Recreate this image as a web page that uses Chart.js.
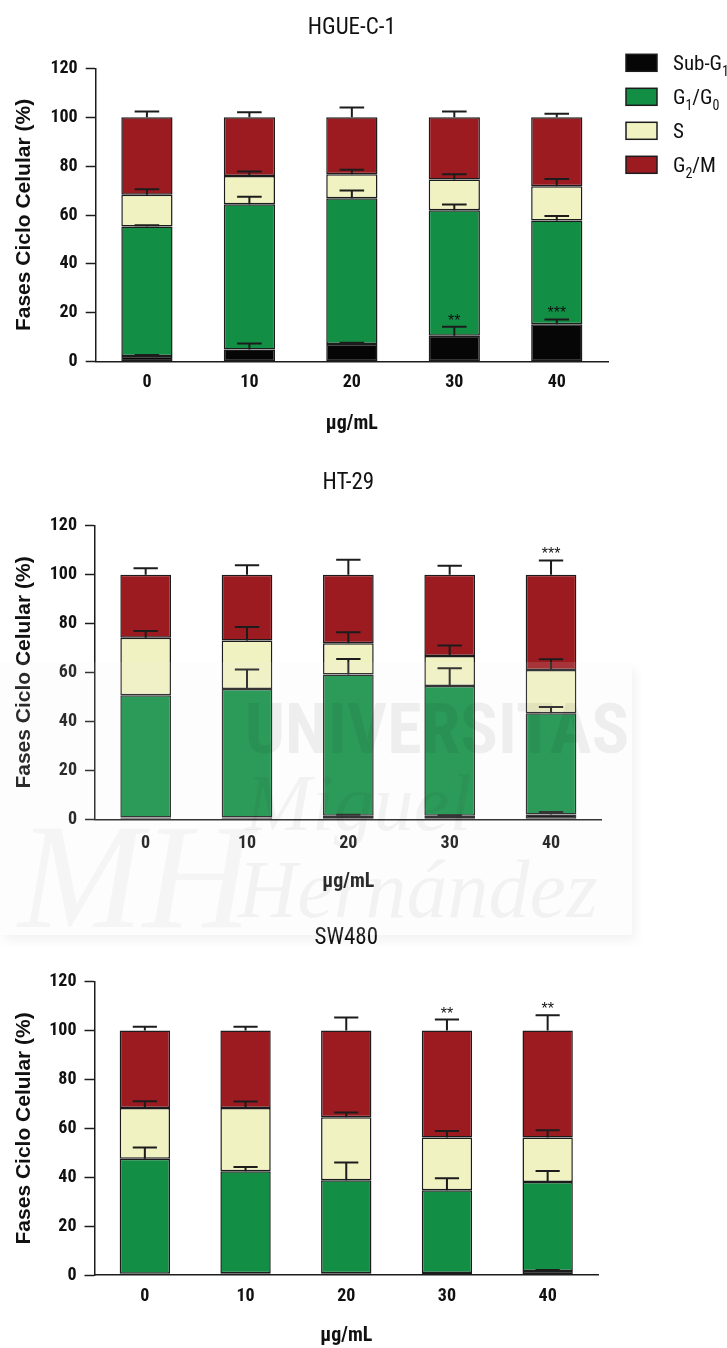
<!DOCTYPE html>
<html>
<head>
<meta charset="utf-8">
<title>Fases del ciclo celular</title>
<script src="https://cdn.jsdelivr.net/npm/chart.js@4.4.1/dist/chart.umd.min.js"></script>
<style>
  body { margin: 0; background: #fff; }
  #page { position: relative; width: 727px; height: 1348px; overflow: hidden; }
  #page canvas { position: absolute; left: 0; }
  .wm { position: absolute; pointer-events: none; white-space: nowrap; line-height: 1; }
  .wm-box { left: 0; top: 662px; width: 632px; height: 273px; background: rgba(238, 238, 238, 0.12);
            box-shadow: 4px 6px 10px rgba(0, 0, 0, 0.05); }
  .wm-uni { left: 245px; top: 688px; font: bold 70px 'Roboto Condensed', sans-serif; color: rgba(0, 0, 0, 0.06); }
  .wm-mig { left: 245px; top: 758px; font: italic 80px 'Liberation Serif', serif; color: rgba(0, 0, 0, 0.045); }
  .wm-her { left: 238px; top: 843px; font: italic 82px 'Liberation Serif', serif; color: rgba(0, 0, 0, 0.045); }
  .wm-logo { left: 18px; top: 790px; font: italic 150px 'Liberation Serif', serif; color: rgba(0, 0, 0, 0.03); }
</style>
</head>
<body>
<div id="page">
  <canvas id="chartHGUE" width="727" height="450" style="top:0px"></canvas>
  <canvas id="chartHT29" width="727" height="455" style="top:450px"></canvas>
  <canvas id="chartSW480" width="727" height="443" style="top:905px"></canvas>
  <div class="wm wm-box"></div>
  <div class="wm wm-logo">MH</div>
  <div class="wm wm-uni">UNIVERSITAS</div>
  <div class="wm wm-mig">Miguel</div>
  <div class="wm wm-her">Hernández</div>
</div>
<script>
// categories (µg/mL) and cell-cycle phases
var categories = ['0', '10', '20', '30', '40'];
var phaseLabels = ['Sub-G_1', 'G_1/G_0', 'S', 'G_2/M'];
var phaseColors = ['#060606', '#128f45', '#f1f2c1', '#9c1b20'];
var yMin = 0, yMax = 120, yStep = 20;

// HGUE-C-1 (% of cells per phase, mean and error)
var hgueSubG1 = [2.3, 5.0, 7.2, 10.6, 15.3];
var hgueG1G0  = [53.0, 59.4, 59.6, 51.3, 42.5];
var hgueS     = [13.0, 11.6, 9.9, 12.6, 14.0];
var hgueG2M   = [31.7, 24.0, 23.3, 25.5, 28.2];
var hgueErrSubG1 = [0.4, 2.4, 0.6, 3.7, 2.0];
var hgueErrG1G0  = [0.5, 3.1, 3.2, 2.4, 1.8];
var hgueErrS     = [2.2, 1.8, 1.8, 2.2, 2.9];
var hgueErrG2M   = [2.3, 2.0, 4.0, 2.3, 1.4];
var hgueSig = ['', '', '', '**', '***'];   // over Sub-G1

// HT-29
var ht29SubG1 = [0.7, 0.7, 1.4, 1.4, 2.0];
var ht29G1G0  = [50.0, 52.6, 57.8, 53.1, 41.3];
var ht29S     = [23.5, 19.8, 12.8, 12.2, 17.7];
var ht29G2M   = [25.8, 26.9, 28.0, 33.3, 39.0];
var ht29ErrSubG1 = [0, 0, 0.5, 0.3, 1.0];
var ht29ErrG1G0  = [0, 7.9, 6.3, 7.2, 2.6];
var ht29ErrS     = [2.8, 5.5, 4.5, 4.3, 4.4];
var ht29ErrG2M   = [2.6, 3.8, 6.1, 3.6, 5.8];
var ht29Sig = ['', '', '', '', '***'];     // over G2/M

// SW480
var sw480SubG1 = [0.5, 0.7, 0.7, 0.8, 1.6];
var sw480G1G0  = [47.1, 41.7, 38.1, 33.9, 36.4];
var sw480S     = [20.7, 25.9, 25.7, 21.6, 18.3];
var sw480G2M   = [31.7, 31.7, 35.5, 43.7, 43.7];
var sw480ErrSubG1 = [0, 0, 0, 0, 0.4];
var sw480ErrG1G0  = [4.6, 1.8, 7.2, 4.9, 4.6];
var sw480ErrS     = [2.8, 2.7, 2.0, 2.6, 2.9];
var sw480ErrG2M   = [1.6, 1.6, 5.4, 4.5, 6.3];
var sw480Sig = ['', '', '', '**', '**'];   // over G2/M

var NARROW = "'Roboto Condensed', 'Open Sans Condensed', sans-serif";
var INK = '#1c1c1c';

// value at the top of segment (dataset d, bar j)
function stackTop(chart, d, j) {
    var sum = 0;
    for (var k = 0; k <= d; k++) sum += chart.data.datasets[k].data[j];
    return sum;
}

// one-sided error bars on top of every stacked segment
var errorBars = {
    id: 'errorBars',
    afterDatasetsDraw: function(chart) {
        var ctx = chart.ctx, yScale = chart.scales.y;
        ctx.save();
        ctx.strokeStyle = INK;
        ctx.lineWidth = 2;
        chart.data.datasets.forEach(function(ds, d) {
            var meta = chart.getDatasetMeta(d);
            meta.data.forEach(function(bar, j) {
                var err = ds.errors[j];
                if (!err) return;
                var top = stackTop(chart, d, j);
                var y0 = yScale.getPixelForValue(top);
                var y1 = yScale.getPixelForValue(top + err);
                var hw = bar.width * 0.24;
                ctx.beginPath();
                ctx.moveTo(bar.x, y0);
                ctx.lineTo(bar.x, y1);
                ctx.moveTo(bar.x - hw, y1);
                ctx.lineTo(bar.x + hw, y1);
                ctx.stroke();
            });
        });
        ctx.restore();
    }
};

// significance asterisks above the error bar of one phase
var sigMarks = {
    id: 'sigMarks',
    afterDatasetsDraw: function(chart, args, opts) {
        if (!opts.labels) return;
        var ctx = chart.ctx, yScale = chart.scales.y;
        var d = opts.dataset, ds = chart.data.datasets[d];
        var meta = chart.getDatasetMeta(d);
        ctx.save();
        ctx.fillStyle = '#111';
        ctx.font = "16px 'Liberation Sans', Arial, sans-serif";
        ctx.textAlign = 'center';
        ctx.textBaseline = 'alphabetic';
        opts.labels.forEach(function(txt, j) {
            if (!txt) return;
            var v = stackTop(chart, d, j) + (ds.errors[j] || 0);
            ctx.fillText(txt, meta.data[j].x, yScale.getPixelForValue(v) - 1);
        });
        ctx.restore();
    }
};

// text with "_x" drawn as subscript x
function drawSubscripted(ctx, text, x, y, size) {
    var parts = text.split(/(_\w)/);
    parts.forEach(function(p) {
        if (!p) return;
        if (p.charAt(0) === '_') {
            ctx.font = Math.round(size * 0.66) + 'px ' + NARROW;
            ctx.fillText(p.slice(1), x, y + size * 0.28);
            x += ctx.measureText(p.slice(1)).width;
        } else {
            ctx.font = size + 'px ' + NARROW;
            ctx.fillText(p, x, y);
            x += ctx.measureText(p).width;
        }
    });
}

var phaseLegend = {
    id: 'phaseLegend',
    afterDraw: function(chart, args, opts) {
        if (!opts.display) return;
        var ctx = chart.ctx, area = chart.chartArea;
        var x = area.right + 18, y = area.top - 14;
        ctx.save();
        chart.data.datasets.forEach(function(ds, i) {
            var top = y + i * 34;
            ctx.fillStyle = ds.backgroundColor;
            ctx.strokeStyle = INK;
            ctx.lineWidth = 1.5;
            ctx.fillRect(x, top, 31, 17);
            ctx.strokeRect(x, top, 31, 17);
            ctx.fillStyle = '#111';
            ctx.textBaseline = 'alphabetic';
            ctx.textAlign = 'left';
            drawSubscripted(ctx, ds.label, x + 47, top + 16, 21);
        });
        ctx.restore();
    }
};

function buildChart(canvasId, titleText, values, errors, sig, box) {
    var datasets = phaseLabels.map(function(label, i) {
        return {
            label: label,
            data: values[i],
            errors: errors[i],
            backgroundColor: phaseColors[i],
            borderColor: INK,
            borderWidth: 1.5,
            borderSkipped: false,
            barPercentage: 0.5,
            categoryPercentage: 1.0
        };
    });
    var tickFont = { family: NARROW, size: 18, weight: 'bold' };
    return new Chart(document.getElementById(canvasId), {
        type: 'bar',
        data: { labels: categories, datasets: datasets },
        plugins: [errorBars, sigMarks, phaseLegend],
        options: {
            responsive: false,
            animation: false,
            layout: { padding: { left: 3, right: box.right, top: 0, bottom: 0 } },
            scales: {
                x: {
                    stacked: true,
                    grid: { display: false, drawTicks: false },
                    border: { color: INK, width: 1.5 },
                    ticks: { color: '#111', padding: box.xTickPad, font: tickFont },
                    title: {
                        display: true, text: 'µg/mL', color: '#111',
                        font: { family: NARROW, size: 20, weight: 'bold' },
                        padding: { top: 0, bottom: box.xTitlePad }
                    },
                    afterFit: function(scale) { scale.height = box.xHeight; }
                },
                y: {
                    stacked: true,
                    min: yMin,
                    max: yMax,
                    grid: { drawOnChartArea: false, tickLength: 10, tickColor: INK, tickWidth: 1.5 },
                    border: { color: INK, width: 1.5 },
                    ticks: { stepSize: yStep, color: '#111', padding: 8, font: tickFont },
                    title: {
                        display: true, text: 'Fases Ciclo Celular (%)', color: '#111',
                        font: { family: "'Liberation Sans', Arial, sans-serif", size: 21, weight: 'bold' },
                        padding: { top: 9, bottom: 0 }
                    },
                    afterFit: function(scale) { scale.width = box.yWidth; }
                }
            },
            plugins: {
                legend: { display: false },
                tooltip: { enabled: false },
                title: {
                    display: true, text: titleText, fullSize: false, color: '#111',
                    font: { family: NARROW, size: 23, weight: 'normal' },
                    padding: { top: box.titleTop, bottom: box.titleBottom }
                },
                sigMarks: sig,
                phaseLegend: { display: box.legend }
            }
        }
    });
}

document.addEventListener('DOMContentLoaded', function() {
    buildChart('chartHGUE', 'HGUE-C-1',
        [hgueSubG1, hgueG1G0, hgueS, hgueG2M],
        [hgueErrSubG1, hgueErrG1G0, hgueErrS, hgueErrG2M],
        { labels: hgueSig, dataset: 0 },
        { right: 119, yWidth: 92.7, xHeight: 88.3, xTickPad: 10, xTitlePad: 14,
          titleTop: 14, titleBottom: 26.7, legend: true });

    buildChart('chartHT29', 'HT-29',
        [ht29SubG1, ht29G1G0, ht29S, ht29G2M],
        [ht29ErrSubG1, ht29ErrG1G0, ht29ErrS, ht29ErrG2M],
        { labels: ht29Sig, dataset: 3 },
        { right: 125.3, yWidth: 92, xHeight: 85.7, xTickPad: 13.6, xTitlePad: 11.3,
          titleTop: 19.2, titleBottom: 28.9, legend: false });

    buildChart('chartSW480', 'SW480',
        [sw480SubG1, sw480G1G0, sw480S, sw480G2M],
        [sw480ErrSubG1, sw480ErrG1G0, sw480ErrS, sw480ErrG2M],
        { labels: sw480Sig, dataset: 3 },
        { right: 129, yWidth: 91.5, xHeight: 73, xTickPad: 10.9, xTitlePad: 0,
          titleTop: 19.5, titleBottom: 29.6, legend: false });
});
</script>
</body>
</html>
